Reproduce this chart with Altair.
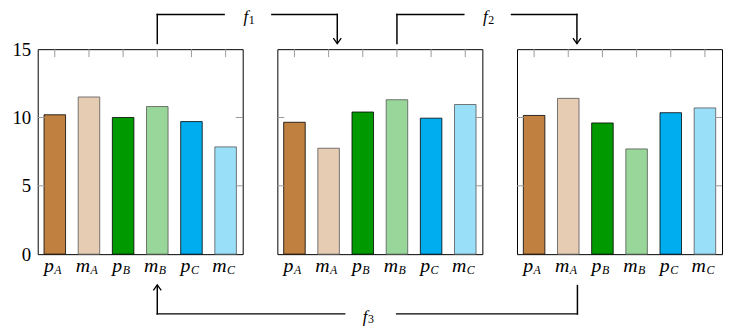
import altair as alt
import pandas as pd

# ---- data ----
letters = ["p", "m", "p", "m", "p", "m"]
subs = ["A", "A", "B", "B", "C", "C"]
cats = [l + s for l, s in zip(letters, subs)]
fill_colors = ["#BF8040", "#E6CCB3", "#009900", "#99D699", "#00AEEF", "#99DFF8"]
edge_colors = ["#000000", "#555555", "#000000", "#555555", "#000000", "#555555"]
panel1_values = [10.2, 11.5, 10.0, 10.8, 9.7, 7.85]
panel2_values = [9.65, 7.75, 10.4, 11.3, 9.95, 10.95]
panel3_values = [10.15, 11.4, 9.6, 7.7, 10.35, 10.7]
y_tick_labels = [0, 5, 10, 15]
inner_ticks = [5, 10]

W = 207
H = 207
GAP = 35
FONT = "'Liberation Serif', 'DejaVu Serif', serif"
one = pd.DataFrame({"k": [0]})


def seg(x1, y1, x2, y2, w=1.5):
    return alt.Chart(one).mark_rule(color="black", strokeWidth=w, strokeCap="butt").encode(
        x=alt.value(x1), x2=alt.value(x2), y=alt.value(y1), y2=alt.value(y2)
    )


DOWN_HEAD = "M-1,-1.4 Q-0.35,-0.5 0,0 Q0.35,-0.5 1,-1.4"
UP_HEAD = "M-1,1.4 Q-0.35,0.5 0,0 Q0.35,0.5 1,1.4"


def head(x, y, path):
    return alt.Chart(one).mark_point(
        shape=path, filled=False, stroke="black", strokeWidth=1.3, size=64, opacity=1
    ).encode(x=alt.value(x), y=alt.value(y))


def label(x, y, name):
    f = alt.Chart(one).mark_text(
        text="f", font=FONT, fontStyle="italic", fontSize=17, align="right",
        baseline="alphabetic", color="black"
    ).encode(x=alt.value(x), y=alt.value(y))
    s = alt.Chart(one).mark_text(
        text=name, font=FONT, fontSize=12, align="left",
        baseline="alphabetic", color="black"
    ).encode(x=alt.value(x + 0.5), y=alt.value(y + 1.5))
    return [f, s]


def top_arrow(name):
    ly = -35
    return [
        seg(120.75, -5, 120.75, ly - 0.75),
        seg(120.0, ly, 189, ly),
        seg(235.7, ly, 303.25, ly),
        seg(302.5, ly - 0.75, 302.5, -5.5),
        head(302.5, -5.5, DOWN_HEAD),
    ] + label(212.5, ly + 8, name)


def bottom_arrow(name):
    ly = H + 60.3
    return [
        seg(545, H + 31, 545, ly + 0.75),
        seg(545.75, ly, 361.7, ly),
        seg(310.7, ly, 120.0, ly),
        seg(120.75, ly + 0.75, 120.75, H + 31),
        head(120.75, H + 31, UP_HEAD),
    ] + label(333, ly + 8, name)


def panel(values, show_y, extra):
    df = pd.DataFrame({"cat": cats, "letter": letters, "sub": subs, "v": values})
    xenc = alt.X("cat:N", sort=cats,
                 scale=alt.Scale(domain=cats, paddingInner=0.37, paddingOuter=0.185),
                 axis=None)
    if show_y:
        yaxis = alt.Axis(values=y_tick_labels, ticks=False, domain=False, grid=False,
                         labelFont=FONT, labelFontSize=19, labelPadding=7,
                         labelColor="black", labelFlush=False, title=None)
    else:
        yaxis = None
    yscale = alt.Scale(domain=[0, 15], nice=False)
    base = alt.Chart(df)
    bars = base.mark_bar(strokeWidth=0.8).encode(
        x=xenc,
        y=alt.Y("v:Q", scale=yscale, axis=yaxis),
        fill=alt.Fill("cat:N", scale=alt.Scale(domain=cats, range=fill_colors), legend=None),
        stroke=alt.Stroke("cat:N", scale=alt.Scale(domain=cats, range=edge_colors), legend=None),
    )
    top_ticks = base.mark_rule(color="#9a9a9a", strokeWidth=1).encode(
        x=xenc, y=alt.value(0), y2=alt.value(8)
    )
    tdf = pd.DataFrame({"t": inner_ticks})
    left_ticks = alt.Chart(tdf).mark_rule(color="#9a9a9a", strokeWidth=1).encode(
        y=alt.Y("t:Q", scale=yscale, axis=yaxis), x=alt.value(0), x2=alt.value(7)
    )
    right_ticks = alt.Chart(tdf).mark_rule(color="#9a9a9a", strokeWidth=1).encode(
        y=alt.Y("t:Q", scale=yscale, axis=yaxis), x=alt.value(W - 7), x2=alt.value(W)
    )
    texts = []
    for letter, dx in (("p", -1.0), ("m", 1.0)):
        sub = base.transform_filter(alt.datum.letter == letter)
        texts.append(sub.mark_text(font=FONT, fontStyle="italic", fontSize=20, align="right",
                                   baseline="alphabetic", dx=dx, color="black").encode(
            x=xenc, y=alt.value(H + 18), text="letter:N"))
        texts.append(sub.mark_text(font=FONT, fontStyle="italic", fontSize=12, align="left",
                                   baseline="alphabetic", dx=dx + 0.5, color="black").encode(
            x=xenc, y=alt.value(H + 20.5), text="sub:N"))
    return alt.layer(bars, top_ticks, left_ticks, right_ticks, *texts, *extra).properties(
        width=W, height=H
    )


p1 = panel(panel1_values, True, top_arrow("1") + bottom_arrow("3"))
p2 = panel(panel2_values, False, top_arrow("2"))
p3 = panel(panel3_values, False, [])

chart = alt.hconcat(p1, p2, p3, spacing=GAP, bounds="flush").properties(
    padding={"left": 3, "top": -2, "right": 0, "bottom": 0}
).configure(background="white", font=FONT).configure_view(stroke="black", strokeWidth=1)

chart.save("out.html", embed_options={"renderer": "svg", "actions": False})
